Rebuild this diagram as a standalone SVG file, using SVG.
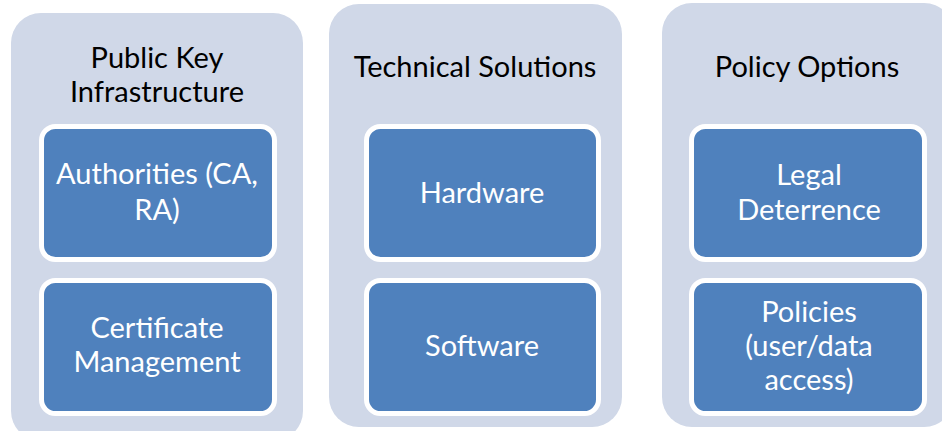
<svg xmlns="http://www.w3.org/2000/svg" width="942" height="431" viewBox="0 0 942 431">
<style>
.panel{fill:#D0D8E8;}
.box{fill:#4F81BD;stroke:#FFFFFF;stroke-width:5;}
.h{font-family:"Lato","Liberation Sans",sans-serif;font-size:29px;fill:#000;text-anchor:middle;}
.t{font-family:"Lato","Liberation Sans",sans-serif;font-size:29px;fill:#FFF;text-anchor:middle;}
</style>
<rect width="942" height="431" fill="#FFFFFF"/>
<g id="pki">
<rect class="panel" x="11" y="13" width="292" height="428" rx="30"/>
<text class="h" x="157" y="68">Public Key</text>
<text class="h" x="157" y="102">Infrastructure</text>
</g>
<g id="authorities">
<rect class="box" x="41.5" y="126.5" width="233" height="133" rx="14"/>
<text class="t" x="157" y="184">Authorities (CA,</text>
<text class="t" x="157" y="220">RA)</text>
</g>
<g id="certmgmt">
<rect class="box" x="41.5" y="280.5" width="233" height="133" rx="14"/>
<text class="t" x="157" y="338">Certificate</text>
<text class="t" x="157" y="372">Management</text>
</g>
<g id="tech">
<rect class="panel" x="329" y="4" width="293" height="423" rx="30"/>
<text class="h" x="475" y="77">Technical Solutions</text>
</g>
<g id="hardware">
<rect class="box" x="366.5" y="126.5" width="232" height="133" rx="14"/>
<text class="t" x="482" y="203">Hardware</text>
</g>
<g id="software">
<rect class="box" x="366.5" y="280.5" width="232" height="133" rx="14"/>
<text class="t" x="482" y="356">Software</text>
</g>
<g id="policy">
<rect class="panel" x="662" y="3" width="292" height="424" rx="30"/>
<text class="h" x="807" y="77">Policy Options</text>
</g>
<g id="legal">
<rect class="box" x="691.5" y="126.5" width="233" height="133" rx="14"/>
<text class="t" x="809" y="185">Legal</text>
<text class="t" x="809" y="220">Deterrence</text>
</g>
<g id="policies">
<rect class="box" x="691.5" y="280.5" width="233" height="133" rx="14"/>
<text class="t" x="809" y="322">Policies</text>
<text class="t" x="809" y="356">(user/data</text>
<text class="t" x="809" y="390">access)</text>
</g>
<g id="connectors"></g>
</svg>
